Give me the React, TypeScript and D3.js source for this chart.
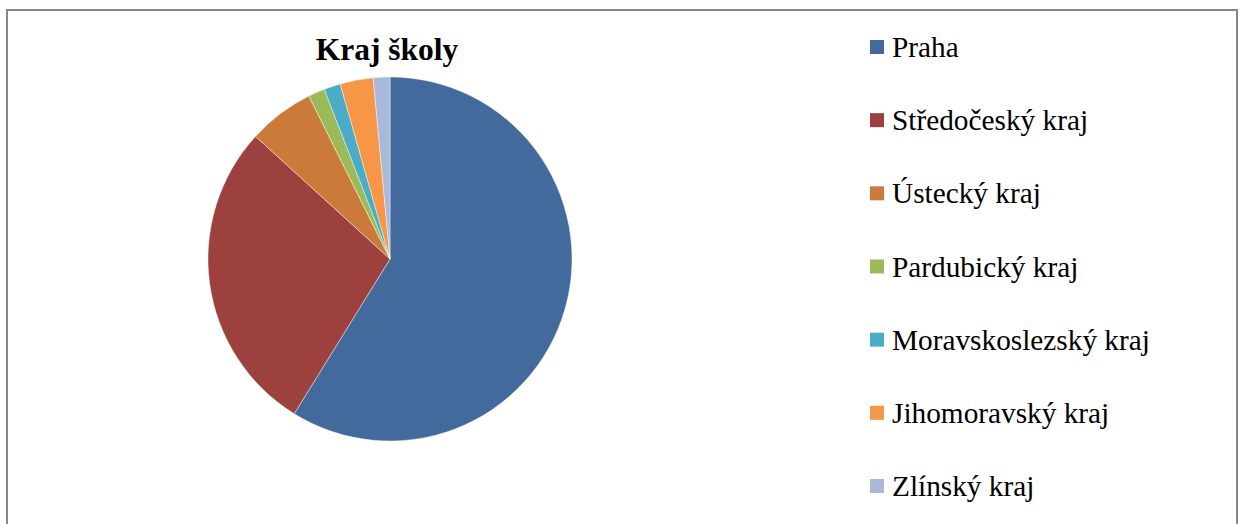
import React from "react";
import * as d3 from "d3";

const categories = ["Praha", "Středočeský kraj", "Ústecký kraj", "Pardubický kraj", "Moravskoslezský kraj", "Jihomoravský kraj", "Zlínský kraj"];
const values = [40, 19, 4, 1, 1, 2, 1];
const colors = ["#436A9C", "#9C413E", "#CB7A3A", "#9BBB59", "#4BACC6", "#F79646", "#AAB9D9"];
const title = "Kraj školy";

const W = 1239, H = 524;
const FONT = "Liberation Serif";

export default function App() {
  const cx = 390, cy = 259, r = 182;
  const data = categories.map((c, i) => ({ c, v: values[i], col: colors[i] }));
  const pie = d3.pie<any>().value((d: any) => d.v).sort(null).startAngle(0).endAngle(2 * Math.PI);
  const arc = d3.arc<any>().innerRadius(0).outerRadius(r);
  const arcs = pie(data);
  const legendY = d3.scalePoint<string>().domain(categories).range([47, 486]);
  return (
    <svg width={W} height={H} style={{ position: "absolute", left: 0, top: 0, background: "#fff" }}>
      <rect x={7} y={10} width={1230} height={600} fill="#fff" stroke="#878787" strokeWidth={2} />
      <text x={387} y={60} textAnchor="middle" style={{ fontFamily: FONT, fontWeight: "bold", fontSize: "31.5px" }} fill="#000">{title}</text>
      <g transform={`translate(${cx},${cy})`}>
        {arcs.map((a, i) => (
          <path key={i} d={arc(a) as string} fill={a.data.col} stroke="#fff" strokeWidth={0.6} strokeOpacity={0.7} />
        ))}
      </g>
      {data.map((d, i) => {
        const y = legendY(d.c) as number;
        return (
          <g key={i}>
            <rect x={870} y={y - 7} width={14} height={14} fill={d.col} />
            <text x={892} y={y + 10} style={{ fontFamily: FONT, fontSize: "29.3px" }} fill="#000">{d.c}</text>
          </g>
        );
      })}
    </svg>
  );
}
